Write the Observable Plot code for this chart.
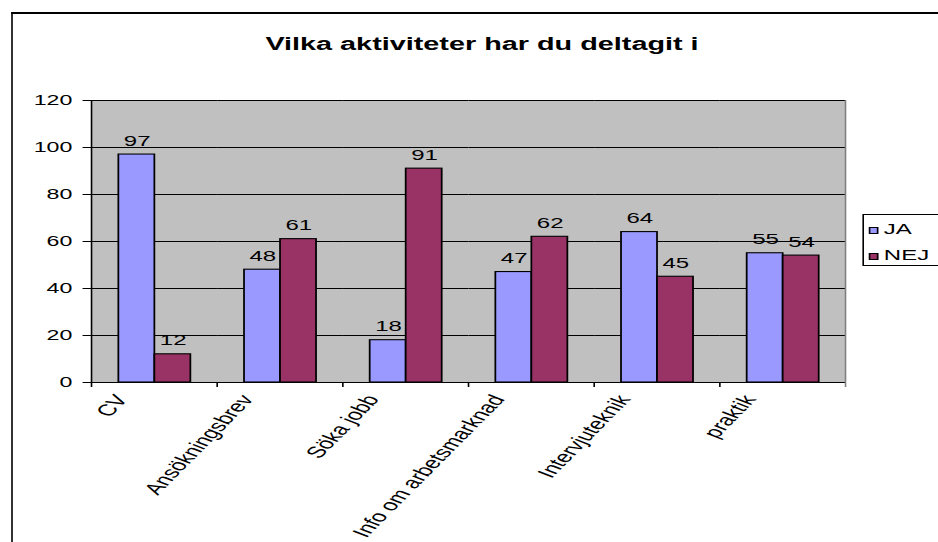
<!DOCTYPE html>
<html>
<head>
<meta charset="utf-8">
<script src="https://cdn.jsdelivr.net/npm/d3@7"></script>
<script src="https://cdn.jsdelivr.net/npm/@observablehq/plot@0.6"></script>
<style>
html, body { margin: 0; padding: 0; background: #fff; overflow: hidden; width: 938px; height: 542px; }
#stage { position: absolute; left: 0; top: 0; width: 586.25px; height: 542px; transform: scaleX(1.6); transform-origin: 0 0; font-family: Arial, "Liberation Sans", sans-serif; }
#border { position: absolute; left: 6.9px; top: 12px; width: 700px; height: 600px; border-left: 1.3px solid #000; border-top: 2px solid #000; box-sizing: border-box; }
#title { position: absolute; left: 0; width: 602.5px; top: 35px; text-align: center; font-weight: bold; font-size: 18px; line-height: 18px; color: #000; white-space: nowrap; }
#chart { position: absolute; left: 0; top: 0; }
#legend { position: absolute; left: 539.4px; top: 214px; width: 120px; height: 52px; border: 1px solid #000; background: #fff; box-sizing: border-box; }
.sw { position: absolute; left: 2.5px; width: 6px; height: 7px; border: 1px solid #000; box-sizing: border-box; }
.lt { position: absolute; left: 12px; font-size: 15px; line-height: 15px; color: #000; white-space: nowrap; }
</style>
</head>
<body>
<div id="stage">
  <div id="border"></div>
  <div id="title"></div>
  <div id="chart"></div>
  <div id="legend"></div>
</div>
<script>
const titleText = "Vilka aktiviteter har du deltagit i";
const categories = ["CV", "Ansökningsbrev", "Söka jobb", "Info om arbetsmarknad", "Intervjuteknik", "praktik"];
const series = ["JA", "NEJ"];
const jaValues = [97, 48, 18, 47, 64, 55];
const nejValues = [12, 61, 91, 62, 45, 54];
const yTicks = [0, 20, 40, 60, 80, 100, 120];
const seriesColors = ["#9999FF", "#993366"];

const data = categories.flatMap((c, i) => [
  {category: c, series: "JA", value: jaValues[i]},
  {category: c, series: "NEJ", value: nejValues[i]}
]);

document.getElementById("title").textContent = titleText;

const plot = Plot.plot({
  width: 586.25,
  height: 542,
  marginLeft: 57.2,
  marginRight: 57.8,
  marginTop: 100,
  marginBottom: 160,
  style: {fontFamily: "Arial, 'Liberation Sans', sans-serif", fontSize: "14px", background: "transparent", overflow: "visible", color: "#000"},
  fx: {domain: categories, padding: 0, round: false, label: null},
  x: {domain: series, paddingInner: 0, paddingOuter: 0.745, round: false, axis: null},
  y: {domain: [0, 120], label: null},
  color: {domain: series, range: seriesColors},
  marks: [
    Plot.frame({fill: "#C0C0C0", stroke: "none", shapeRendering: "crispEdges"}),
    Plot.gridY(yTicks, {stroke: "#000", strokeOpacity: 1, strokeWidth: 1}),
    Plot.barY(data, {fx: "category", x: "series", y: "value", fill: "series", stroke: "#000", strokeWidth: 1.1}),
    Plot.text(data, {fx: "category", x: "series", y: "value", text: d => String(d.value), lineAnchor: "bottom", dy: -9, fontSize: 15, fill: "#000"}),
    Plot.ruleY([0], {stroke: "#000"}),
    Plot.axisY(yTicks, {tickSize: 5.6, tickPadding: 6.9, fontSize: 14.5, label: null, stroke: "#000"}),
    Plot.axisFx({anchor: "bottom", tickSize: 0, tickRotate: -58, tickPadding: 14, dx: -21, fontSize: 16, label: null})
  ]
});

document.getElementById("chart").appendChild(plot);

// axis lines and category boundary ticks, from the plot's scales
const fx = plot.scale("fx");
const ys = plot.scale("y");
const y0 = ys.apply(0), yTop = ys.apply(yTicks[yTicks.length - 1]);
const bounds = categories.map(c => fx.apply(c)).concat([fx.apply(categories[categories.length - 1]) + fx.bandwidth]);
const svg = d3.select(plot);
const g = svg.append("g");
g.append("line").attr("x1", bounds[bounds.length - 1]).attr("x2", bounds[bounds.length - 1]).attr("y1", yTop).attr("y2", y0).attr("stroke", "#808080");
g.selectAll("line.bt").data(bounds).join("line").attr("class", "bt")
  .attr("x1", d => d).attr("x2", d => d).attr("y1", y0).attr("y2", y0 + 5)
  .attr("stroke", (d, i) => i === bounds.length - 1 ? "#808080" : "#000");
g.append("line").attr("x1", bounds[0]).attr("x2", bounds[0]).attr("y1", yTop).attr("y2", y0).attr("stroke", "#000");

// legend
const legend = document.getElementById("legend");
const legendRows = [{sw: 12, tx: 6}, {sw: 38, tx: 32}];
series.forEach((s, i) => {
  const sw = document.createElement("div");
  sw.className = "sw";
  sw.style.top = legendRows[i].sw + "px";
  sw.style.background = plot.scale("color").apply(s);
  legend.appendChild(sw);
  const t = document.createElement("div");
  t.className = "lt";
  t.style.top = legendRows[i].tx + "px";
  t.textContent = s;
  legend.appendChild(t);
});
</script>
</body>
</html>
